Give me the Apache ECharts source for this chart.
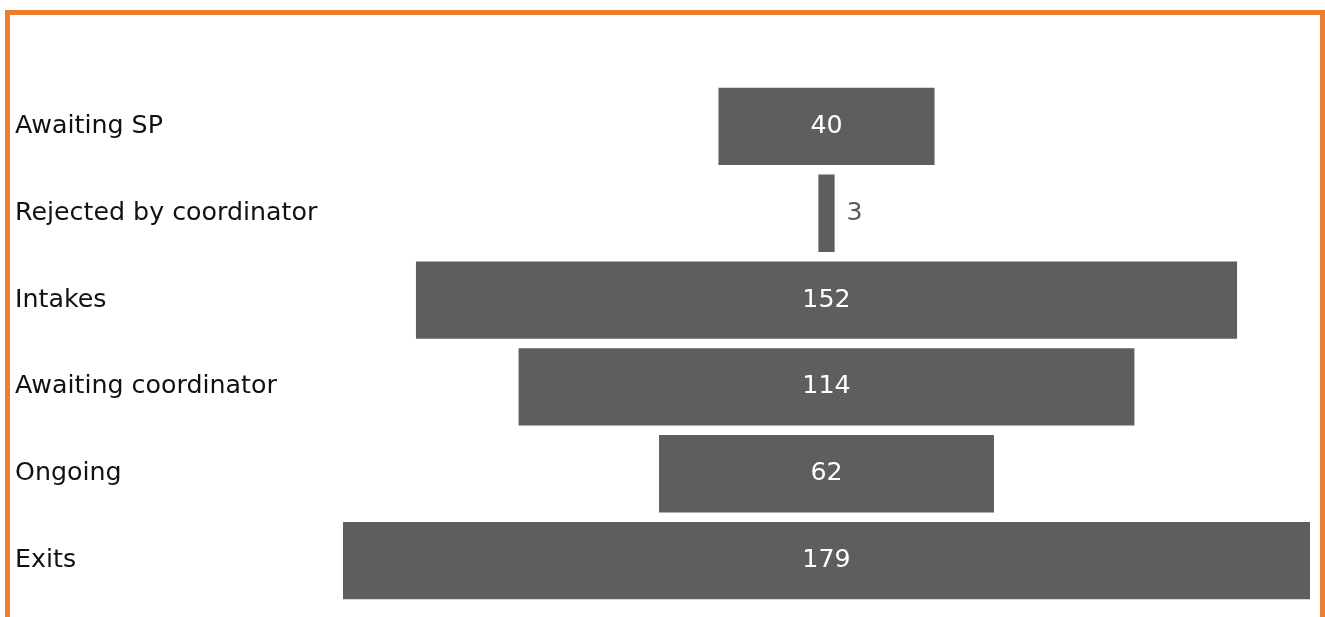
<!DOCTYPE html>
<html>
<head>
<meta charset="utf-8">
<script src="https://cdn.jsdelivr.net/npm/echarts@6/dist/echarts.min.js"></script>
<style>
  html, body { margin: 0; padding: 0; background: #ffffff; overflow: hidden; }
  #frame { position: absolute; left: 5px; top: 10px; width: 1310px; height: 640px; border: 5px solid #ED7D31; box-sizing: content-box; }
  #chart { position: absolute; left: 0; top: 0; width: 1325px; height: 617px; }
</style>
</head>
<body>
<div id="frame"></div>
<div id="chart"></div>
<script>
const categories = ["Awaiting SP", "Rejected by coordinator", "Intakes", "Awaiting coordinator", "Ongoing", "Exits"];
const values = [40, 3, 152, 114, 62, 179];

const maxVal = Math.max.apply(null, values);
const offsets = values.map(v => (maxVal - v) / 2);

const chart = echarts.init(document.getElementById('chart'));
chart.setOption({
  animation: false,
  grid: { left: 343, right: 15, top: 83, bottom: 13 },
  xAxis: { type: 'value', min: 0, max: maxVal, show: false },
  yAxis: {
    type: 'category', data: categories, inverse: true,
    axisLine: { show: false }, axisTick: { show: false },
    axisLabel: { align: 'left', margin: 328, fontFamily: 'DejaVu Sans', fontSize: 25.3, color: '#111111' }
  },
  series: [
    { type: 'bar', stack: 'f', data: offsets, itemStyle: { color: 'transparent' }, barCategoryGap: '11%', silent: true },
    {
      type: 'bar', stack: 'f', barCategoryGap: '11%',
      data: values.map(v => ({
        value: v,
        label: v < 10
          ? { show: true, position: 'right', distance: 12, color: '#595959' }
          : { show: true, position: 'inside', color: '#ffffff' }
      })),
      itemStyle: { color: '#5f5e5c' },
      label: { fontFamily: 'DejaVu Sans', fontSize: 25.3 }
    }
  ]
});
</script>
</body>
</html>
